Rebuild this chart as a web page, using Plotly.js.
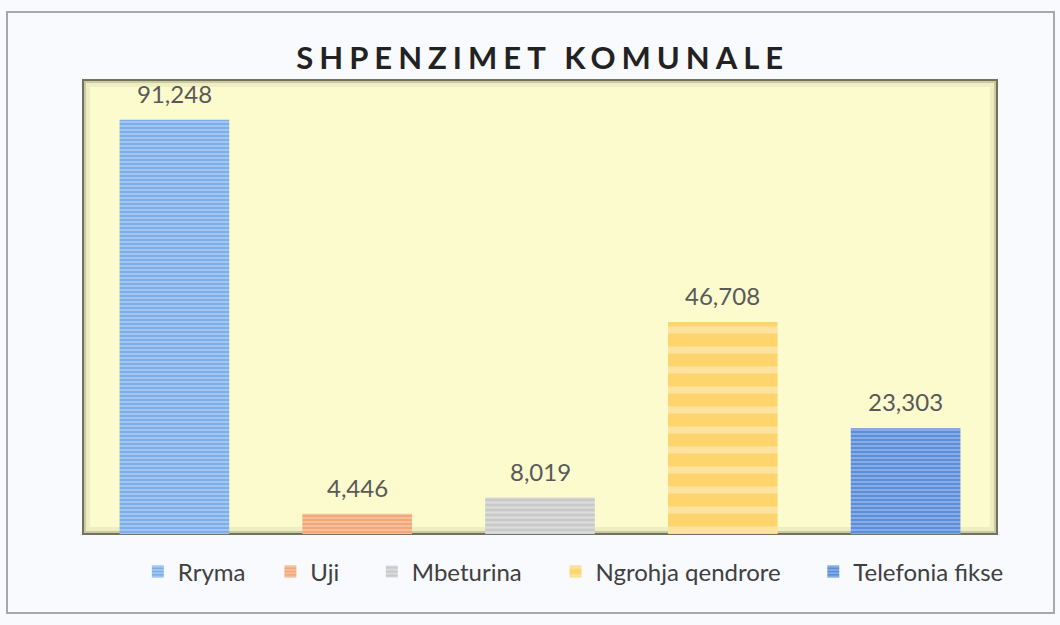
<!DOCTYPE html>
<html>
<head>
<meta charset="utf-8">
<script src="https://cdn.plot.ly/plotly-3.0.1.min.js"></script>
<style>
  html, body { margin: 0; padding: 0; background: #ffffff; }
  #chart { width: 1060px; height: 625px; }
</style>
</head>
<body>
<div id="chart"></div>
<script>
// ---- data ----
const categories = ['Rryma', 'Uji', 'Mbeturina', 'Ngrohja qendrore', 'Telefonia fikse'];
const values = [91248, 4446, 8019, 46708, 23303];
const valueLabels = ['91,248', '4,446', '8,019', '46,708', '23,303'];
const chartTitle = 'SHPENZIMET KOMUNALE';

// ---- styles ----
const barColors = ['#7DAEE9', '#F3A676', '#C9C9C9', '#FDD56C', '#5D8FD8'];
const stripeColors = ['#A7C9F1', '#F8C3A0', '#DDDDDD', '#FEE3A0', '#8AB0E6'];
const stripeSizes = [4, 4, 5, 20, 4];
const stripeSolidity = [0.45, 0.45, 0.45, 0.35, 0.45];
const legendX = [0.060, 0.205, 0.316, 0.517, 0.799];

const W = 914, H = 454;
const traces = categories.map((c, i) => ({
  type: 'bar',
  x: [c],
  y: [values[i]],
  name: c,
  legend: i === 0 ? 'legend' : 'legend' + (i + 1),
  marker: {
    color: barColors[i],
    line: { width: 0 },
    pattern: { shape: '-', fgcolor: stripeColors[i], bgcolor: barColors[i], size: stripeSizes[i], solidity: stripeSolidity[i], fillmode: 'replace' }
  },
  hoverinfo: 'x+y'
}));

const annotations = categories.map((c, i) => ({
  x: c, y: values[i], xref: 'x', yref: 'y',
  text: valueLabels[i], showarrow: false,
  yanchor: 'bottom', yshift: 10,
  font: { family: 'Lato, sans-serif', size: 24, color: '#595959' }
}));

const px = (p) => p / W, py = (p) => p / H;
const shapes = [
  // outer chart frame
  { type: 'rect', xref: 'paper', yref: 'paper', x0: px(7 - 83), x1: px(1054 - 83), y0: py(534 - 613), y1: py(534 - 12),
    line: { color: '#a8a8a8', width: 2 }, fillcolor: 'rgba(0,0,0,0)', layer: 'below' },
  // plot area inner shadow
  { type: 'rect', xref: 'paper', yref: 'paper', x0: px(5), x1: 1 - px(5), y0: py(5), y1: 1 - py(5),
    line: { color: 'rgba(150,150,110,0.12)', width: 4 }, layer: 'below' },
  { type: 'rect', xref: 'paper', yref: 'paper', x0: px(2), x1: 1 - px(2), y0: py(2), y1: 1 - py(2),
    line: { color: 'rgba(110,110,80,0.35)', width: 2 }, layer: 'below' },
  { type: 'rect', xref: 'paper', yref: 'paper', x0: 0, x1: 1, y0: 0, y1: 1,
    line: { color: 'rgba(80,80,60,0.8)', width: 2 }, layer: 'below' }
];

const layout = {
  width: 1060, height: 625,
  paper_bgcolor: '#F8FAFD',
  plot_bgcolor: '#FBFBCE',
  margin: { l: 83, r: 63, t: 80, b: 91 },
  barmode: 'overlay',
  bargap: 0.4,
  showlegend: true,
  title: {
    text: chartTitle,
    xref: 'container', yref: 'container',
    x: 0.512, y: 1 - 58 / 625, xanchor: 'center', yanchor: 'middle',
    font: { family: 'Lato, sans-serif', size: 31, weight: 700, color: '#222222' }
  },
  xaxis: {
    type: 'category', categoryorder: 'array', categoryarray: categories,
    showticklabels: false, ticks: '', showgrid: false, zeroline: false, showline: false, fixedrange: true
  },
  yaxis: {
    range: [0, 100000], showticklabels: false, ticks: '', showgrid: false, zeroline: false, showline: false, fixedrange: true
  },
  annotations: annotations,
  shapes: shapes,
  font: { family: 'Lato, sans-serif', color: '#404040' }
};

categories.forEach((c, i) => {
  const key = i === 0 ? 'legend' : 'legend' + (i + 1);
  layout[key] = {
    x: legendX[i], y: -38 / H, xref: 'paper', yref: 'paper',
    xanchor: 'left', yanchor: 'middle',
    orientation: 'h', bgcolor: 'rgba(0,0,0,0)', borderwidth: 0,
    font: { family: 'Lato, sans-serif', size: 24, color: '#404040' },
    itemclick: false, itemdoubleclick: false
  };
});

Plotly.newPlot('chart', traces, layout, { displayModeBar: false, staticPlot: true }).then(gd => {
  const t = gd.querySelector('.gtitle');
  if (t) t.style.letterSpacing = '6px';
});
</script>
</body>
</html>
